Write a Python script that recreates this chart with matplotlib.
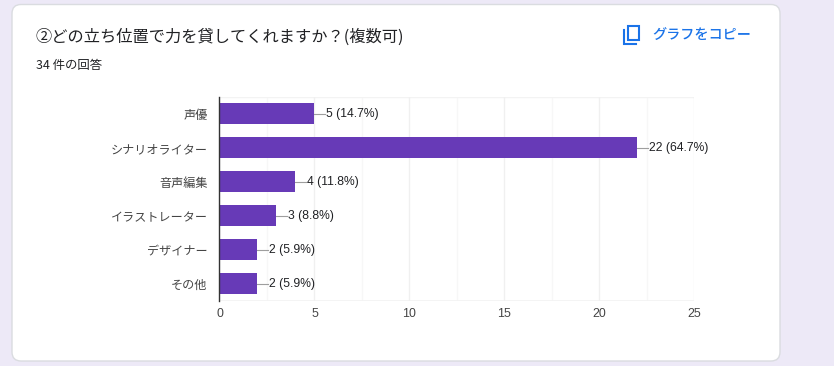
import matplotlib

matplotlib.use("Agg")

import matplotlib.pyplot as plt
from matplotlib.patches import FancyBboxPatch, Rectangle

plt.rcParams["font.family"] = ["Noto Sans CJK JP", "DejaVu Sans"]

W, H = 834, 366
PURPLE = "#673ab7"
BLUE = "#1a73e8"

categories = ["声優", "シナリオライター", "音声編集", "イラストレーター", "デザイナー", "その他"]
counts = [5, 22, 4, 3, 2, 2]
percents = [14.7, 64.7, 11.8, 8.8, 5.9, 5.9]
xticks = [0, 5, 10, 15, 20, 25]
minor_ticks = [2.5, 7.5, 12.5, 17.5, 22.5]

title = "②どの立ち位置で力を貸してくれますか？(複数可)"
subtitle = "34 件の回答"
copy_label = "グラフをコピー"


def draw_card(fig):
    bg = fig.add_axes([0, 0, 1, 1])
    bg.set_xlim(0, W)
    bg.set_ylim(H, 0)
    bg.axis("off")
    card = FancyBboxPatch(
        (12, 4.5), 768, 356.5, boxstyle="round,pad=0,rounding_size=9",
        facecolor="white", edgecolor="#dadce0", linewidth=1,
    )
    bg.add_patch(card)
    bg.text(36, 37, title, fontsize=11.7, color="#202124", va="center")
    bg.text(36, 66, subtitle, fontsize=8.9, color="#202124", va="center")
    bg.text(652, 36, copy_label, fontsize=10.2, color=BLUE, va="center", fontweight="medium")
    # copy icon
    bg.add_patch(Rectangle((628, 26), 11, 14, fill=False, edgecolor=BLUE, linewidth=1.5))
    bg.plot([624, 624, 636], [30, 44, 44], color=BLUE, linewidth=1.5, solid_joinstyle="miter")


def draw_chart(fig):
    left, right, top, bottom = 219.5, 694.5, 97, 300.5
    ax = fig.add_axes([left / W, 1 - bottom / H, (right - left) / W, (bottom - top) / H])
    ax.patch.set_alpha(0)
    y = range(len(categories))
    ax.barh(y, counts, height=0.62, color=PURPLE, zorder=3)
    ax.set_xlim(xticks[0], xticks[-1])
    ax.set_ylim(len(categories) - 0.5, -0.5)

    for m in minor_ticks:
        ax.axvline(m, color="#f7f7f7", linewidth=1, zorder=1)
    ax.set_xticks(xticks)
    ax.grid(axis="x", color="#f0f0f0", linewidth=1, zorder=1)
    ax.axhline(-0.5, color="#f3f3f3", linewidth=1, zorder=1)
    ax.axhline(len(categories) - 0.5, color="#f3f3f3", linewidth=2, zorder=1)

    for i, (c, p) in enumerate(zip(counts, percents)):
        ax.plot([c, c + 0.56], [i, i], color="#9e9e9e", linewidth=0.8, zorder=2)
        ax.text(c + 0.6, i, f"{c} ({p}%)", fontsize=8.7, color="#202124",
                va="center", ha="left", family=["Liberation Sans"], zorder=4)

    ax.set_yticks(list(y))
    ax.set_yticklabels(categories, fontsize=8.7, color="#444444", va="center_baseline")
    ax.tick_params(axis="y", length=0, pad=8.6)
    ax.tick_params(axis="x", length=0, pad=5.4, labelsize=8.9, labelcolor="#444444")
    for label in ax.get_xticklabels():
        label.set_family(["Liberation Sans"])

    for name in ["top", "right", "bottom"]:
        ax.spines[name].set_visible(False)
    ax.spines["left"].set_color("#333333")
    ax.spines["left"].set_linewidth(1)
    ax.spines["left"].set_zorder(5)


def main():
    fig = plt.figure(figsize=(W / 100, H / 100), dpi=100, facecolor="#ede9f7")
    draw_card(fig)
    draw_chart(fig)
    fig.savefig("out.png", dpi=100, facecolor=fig.get_facecolor())
    plt.close(fig)


if __name__ == "__main__":
    main()
